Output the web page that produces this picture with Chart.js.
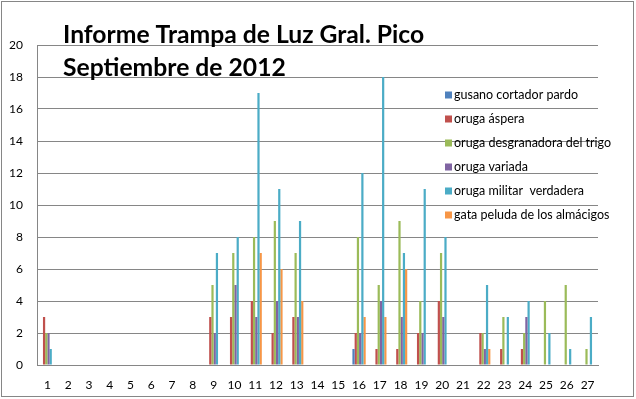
<!DOCTYPE html>
<html>
<head>
<meta charset="utf-8">
<script src="https://cdn.jsdelivr.net/npm/chart.js@4.4.1/dist/chart.umd.min.js"></script>
<style>
  body { margin: 0; background: #fff; }
</style>
</head>
<body>
<canvas id="trampa" width="636" height="399"></canvas>
<script>
// dias de septiembre
const dias = ['1','2','3','4','5','6','7','8','9','10','11','12','13','14','15','16','17','18','19','20','21','22','23','24','25','26','27'];

const gusanoCortadorPardo = [0,0,0,0,0,0,0,0,0,0,0,0,0,0,0,1,0,0,0,0,0,0,0,0,0,0,0];
const orugaAspera         = [3,0,0,0,0,0,0,0,3,3,4,2,3,0,0,2,1,1,2,4,0,2,1,1,0,0,0];
const orugaDesgranadora   = [2,0,0,0,0,0,0,0,5,7,8,9,7,0,0,8,5,9,4,7,0,2,3,2,4,5,1];
const orugaVariada        = [2,0,0,0,0,0,0,0,2,5,3,4,3,0,0,2,4,3,2,3,0,1,0,3,0,0,0];
const orugaMilitar        = [1,0,0,0,0,0,0,0,7,8,17,11,9,0,0,12,18,7,11,8,0,5,3,4,2,1,3];
const gataPeluda          = [0,0,0,0,0,0,0,0,0,0,7,6,4,0,0,3,3,6,0,0,0,1,0,0,0,0,0];

const yTicks = [0,2,4,6,8,10,12,14,16,18,20];

const tituloLineas = ['Informe Trampa de Luz Gral. Pico', 'Septiembre de 2012'];

const gris = '#868686';

// titulo y leyenda van encima del area de trazado, como en Excel
const encima = {
    id: 'encima',
    afterDraw(chart) {
        const ctx = chart.ctx;
        ctx.save();

        // borde exterior
        ctx.strokeStyle = gris;
        ctx.lineWidth = 1;
        ctx.strokeRect(1.5, 1.5, 632, 395);

        // titulo
        ctx.fillStyle = '#000';
        ctx.textBaseline = 'alphabetic';
        ctx.textAlign = 'left';
        ctx.font = 'bold 24px Lato';
        const w = ctx.measureText(tituloLineas[0]).width;
        const size = 24 * 362 / w;
        ctx.font = 'bold ' + size.toFixed(1) + 'px Lato';
        ctx.fillText(tituloLineas[0], 63, 43);
        ctx.fillText(tituloLineas[1], 63, 76);

        // leyenda
        ctx.font = '12.5px Lato';
        ctx.textBaseline = 'middle';
        chart.data.datasets.forEach((ds, i) => {
            const y = 95 + i * 24;
            ctx.fillStyle = ds.backgroundColor;
            ctx.fillRect(445, y - 3.5, 7, 7);
            ctx.fillStyle = '#000';
            ctx.fillText(ds.label, 454, y);
        });

        ctx.restore();
    }
};

new Chart(document.getElementById('trampa'), {
    type: 'bar',
    data: {
        labels: dias,
        datasets: [
            { label: 'gusano cortador pardo', data: gusanoCortadorPardo, backgroundColor: '#4F81BD' },
            { label: 'oruga áspera', data: orugaAspera, backgroundColor: '#C0504D' },
            { label: 'oruga desgranadora del trigo', data: orugaDesgranadora, backgroundColor: '#9BBB59' },
            { label: 'oruga variada', data: orugaVariada, backgroundColor: '#8064A2' },
            { label: 'oruga militar  verdadera', data: orugaMilitar, backgroundColor: '#4BACC6' },
            { label: 'gata peluda de los almácigos', data: gataPeluda, backgroundColor: '#F79646' }
        ]
    },
    options: {
        responsive: false,
        animation: false,
        layout: { padding: { top: 45, right: 38, bottom: 0, left: 0 } },
        datasets: {
            bar: { categoryPercentage: 0.64, barPercentage: 1.0, borderWidth: 0 }
        },
        scales: {
            x: {
                grid: { display: false },
                border: { display: true, color: gris },
                ticks: { color: '#000', font: { family: 'Lato', size: 12 }, padding: 5, maxRotation: 0, autoSkip: false },
                afterFit(scale) { scale.height = 34; }
            },
            y: {
                min: 0,
                max: 20,
                afterBuildTicks(scale) { scale.ticks = yTicks.map(v => ({ value: v })); },
                grid: { color: gris, drawTicks: false },
                border: { display: true, color: gris },
                ticks: { color: '#000', font: { family: 'Lato', size: 12 }, padding: 14 },
                afterFit(scale) { scale.width = 37; }
            }
        },
        plugins: {
            legend: { display: false },
            title: { display: false },
            tooltip: { enabled: false }
        }
    },
    plugins: [encima]
});
</script>
</body>
</html>
